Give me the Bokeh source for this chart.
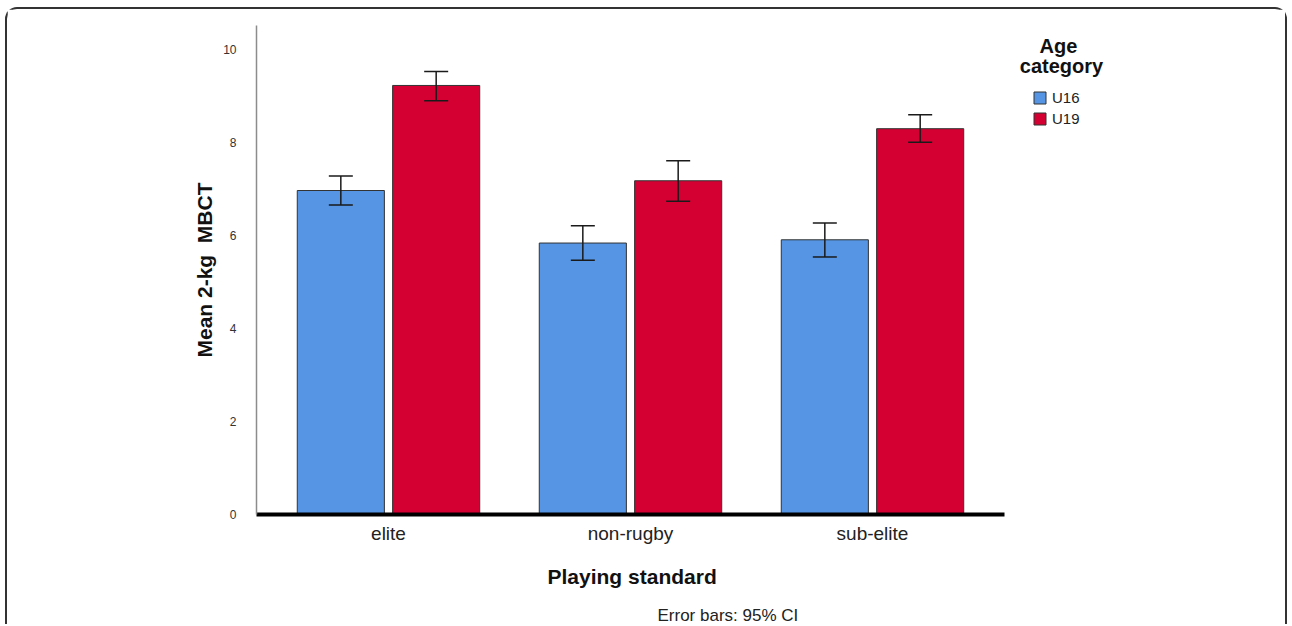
from bokeh.plotting import figure
from bokeh.models import (ColumnDataSource, Range1d, FixedTicker, Whisker, TeeHead,
                          Legend, LegendItem, Label, Title)
from bokeh.transform import dodge
from bokeh.embed import file_html
from bokeh.resources import INLINE

categories = ["elite", "non-rugby", "sub-elite"]
u16_mean = [6.97, 5.84, 5.91]
u16_lo = [6.66, 5.47, 5.54]
u16_hi = [7.28, 6.21, 6.27]
u19_mean = [9.23, 7.18, 8.30]
u19_lo = [8.90, 6.74, 8.01]
u19_hi = [9.53, 7.61, 8.60]
y_ticks = [0, 2, 4, 6, 8, 10]

FONT = "Liberation Sans"
BLUE = "#5595e3"
RED = "#d50032"

# category slots on a numeric axis (slot centres at i + 0.5)
xpos = [i + 0.5 for i in range(len(categories))]
src = ColumnDataSource(dict(x=xpos, cat=categories, u16=u16_mean, u16_lo=u16_lo, u16_hi=u16_hi,
                            u19=u19_mean, u19_lo=u19_lo, u19_hi=u19_hi))

W, H = 1282, 617
MB_L, MB_R = 249, 10
frame_w = W - MB_L - MB_R
CAT_PX = 242.0          # pixel width of one category slot
x_start = -11.0 / CAT_PX
x_end = x_start + frame_w / CAT_PX

p = figure(width=W, height=H, output_backend="svg", toolbar_location=None,
           x_range=Range1d(x_start, x_end), y_range=Range1d(0, 10.52),
           min_border_left=MB_L, min_border_right=MB_R, min_border_top=16, min_border_bottom=112)
p.margin = (7, 0, 0, 5)
p.styles = {"border-top": "2px solid #333", "border-left": "2px solid #333",
            "border-right": "2px solid #333", "border-top-left-radius": "12px",
            "border-top-right-radius": "12px"}
p.outline_line_color = None
p.xgrid.grid_line_color = None
p.ygrid.grid_line_color = None

off = 0.197
bw = 0.36
r16 = p.vbar(x=dodge("x", -off), top="u16", width=bw, source=src,
             fill_color=BLUE, line_color="#333333", line_width=1)
r19 = p.vbar(x=dodge("x", off), top="u19", width=bw, source=src,
             fill_color=RED, line_color="#333333", line_width=1)

for key, d in (("u16", -off), ("u19", off)):
    w = Whisker(base=dodge("x", d), lower=key + "_lo", upper=key + "_hi",
                source=src, line_color="#1a1a1a", line_width=1.5, level="overlay",
                upper_head=TeeHead(size=24, line_color="#1a1a1a", line_width=1.5),
                lower_head=TeeHead(size=24, line_color="#1a1a1a", line_width=1.5))
    p.add_layout(w)

# y axis
ya = p.yaxis[0]
ya.ticker = FixedTicker(ticks=y_ticks)
ya.major_tick_line_color = None
ya.minor_tick_line_color = None
ya.major_tick_out = 0
ya.axis_line_color = "#8c8c8c"
ya.axis_line_width = 1.5
ya.major_label_text_font = FONT
ya.major_label_text_font_size = "12px"
ya.major_label_text_color = "#333333"
ya.major_label_standoff = 20
ya.axis_label = "Mean 2-kg\u00a0 MBCT"
ya.axis_label_text_font = FONT
ya.axis_label_text_font_size = "21px"
ya.axis_label_text_font_style = "bold"
ya.axis_label_text_color = "#111111"
ya.axis_label_standoff = 4

# x axis (categorical labels on slot centres, line limited to the category span)
xa = p.xaxis[0]
xa.ticker = FixedTicker(ticks=xpos, minor_ticks=[])
xa.major_label_overrides = {x: c for x, c in zip(xpos, categories)}
xa.bounds = (x_start, len(categories) - x_start)
xa.major_tick_line_color = None
xa.minor_tick_line_color = None
xa.major_tick_out = 0
xa.minor_tick_out = 0
xa.axis_line_color = "#000000"
xa.axis_line_width = 4
xa.major_label_text_font = FONT
xa.major_label_text_font_size = "19px"
xa.major_label_text_color = "#222222"
xa.major_label_standoff = 8

# x-axis title, centred under the category span
xtitle = Title(text="Playing standard", align="left", offset=291, standoff=32,
               text_font=FONT, text_font_size="21px", text_font_style="bold",
               text_color="#111111")
p.add_layout(xtitle, "below")
note = Title(text="Error bars: 95% CI", align="left", offset=401, standoff=0,
             text_font=FONT, text_font_size="17px", text_font_style="normal",
             text_color="#222222")
p.add_layout(note, "below")

legend = Legend(items=[LegendItem(label="U16", renderers=[r16]),
                       LegendItem(label="U19", renderers=[r19])],
                location=(776, 387), padding=0, margin=0, spacing=4,
                glyph_width=15, glyph_height=15, label_height=15, label_standoff=5,
                label_text_font=FONT, label_text_font_size="15px", label_text_color="#222222",
                border_line_color=None, background_fill_alpha=0)
p.add_layout(legend, "center")

for txt, xx, yy in (("Age", 802, 469), ("category", 805, 449)):
    p.add_layout(Label(x=xx, y=yy, x_units="screen", y_units="screen", text=txt,
                       text_align="center", text_baseline="alphabetic", text_font=FONT,
                       text_font_size="20px", text_font_style="bold", text_color="#111111"))

open("out.html", "w").write(file_html(p, INLINE))
